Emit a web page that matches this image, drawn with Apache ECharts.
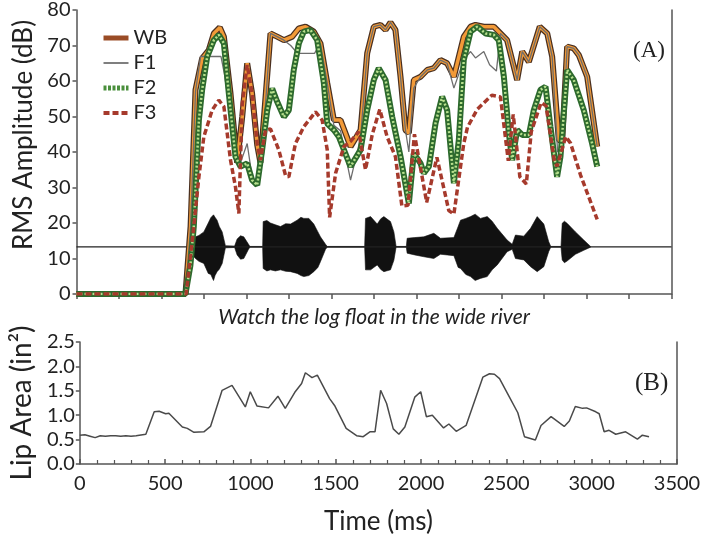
<!DOCTYPE html>
<html>
<head>
<meta charset="utf-8">
<script src="https://cdn.jsdelivr.net/npm/echarts@6/dist/echarts.min.js"></script>
<style>html,body{margin:0;padding:0;background:#fff;}#c{width:715px;height:538px;}</style>
</head>
<body>
<div id="c"></div>
<script>
// ---------- Panel A: RMS amplitude (dB) ----------
var wbT = [0,641,671,700,739,778,808,843,867,906,945,975,1004,1033,1063,1082,1141,1180,1220,1269,1308,1347,1396,1435,1475,1514,1553,1612,1671,1710,1749,1788,1818,1847,1876,1906,1935,1955,1984,2024,2063,2102,2141,2180,2220,2278,2318,2347,2396,2455,2494,2533,2592,2622,2661,2725,2769,2798,2837,2857,2886,2925,2955,3004,3063];
var wbV = [0,0,19,57.5,66.4,68.7,73.4,75.1,72.5,56.5,37,50,65,56.5,42,37,73.4,72.5,71.5,72.5,74.8,75.3,73.9,70.6,59.4,49,49,41.5,46.2,67.8,75.3,75.8,74.4,76.5,74.4,61.2,46.2,45.3,60.3,61.2,63.1,63.6,65.9,65,61.2,72.5,75.3,75.8,75.3,75.3,73.4,71.5,60.3,68.3,65.4,75.3,73.4,66.9,43.4,42.9,69.7,69.2,67.3,61.2,41.5];

var f1T = [0,641,671,700,730,850,870,906,935,965,1004,1033,1063,1092,1141,1180,1220,1260,1300,1400,1435,1475,1514,1553,1612,1671,1710,1749,1788,1818,1847,1876,1906,1935,1955,1984,2024,2063,2102,2141,2180,2220,2278,2318,2347,2396,2430,2470,2494,2533,2592,2622,2661,2725,2769,2798,2830,2857,2886,2925,2955,3004,3063];
var f1V = [0,0,19,57,66.9,66.9,62,50,38,37,42.4,33,31,40,73.4,72.5,71.5,70,67.8,67.8,70.6,59.4,47.5,46,32.1,44,67.8,75.3,75.8,74.4,76.5,74.4,61.2,46.2,40,58,61.2,63.1,63.6,65.9,65,58,66,68.3,66.5,68.3,64.6,62.8,73.4,71.5,60.3,68.3,65.4,75.3,73.4,66.9,40,41,69.7,69.2,67.3,61.2,41.5];

var f2T = [0,641,670,690,720,739,769,808,837,867,896,935,965,1004,1033,1063,1092,1122,1151,1180,1220,1249,1278,1308,1337,1376,1416,1455,1475,1514,1543,1612,1671,1710,1749,1778,1818,1857,1906,1955,1984,2024,2043,2073,2112,2151,2180,2220,2249,2278,2318,2357,2406,2455,2484,2514,2543,2563,2592,2622,2661,2690,2729,2759,2788,2827,2847,2886,2925,2984,3033,3063];
var f2V = [0,0,8,19,49,57.5,66.9,71.5,73,70.6,56.5,38.7,35.9,36.8,32.1,30.7,40.6,51.8,57.9,54.2,49.9,51.8,63.1,70.6,73.9,74.4,71.5,59.4,48,46.2,44.3,35.9,40.6,51.8,60.3,63.6,60.3,49.9,38.7,25.5,39.6,36.8,34,35.9,48.1,55.6,51.8,31.2,43.4,65.9,73.9,75.3,73.4,73,71.5,61.2,45.3,37.7,46.2,44.8,44.8,51.8,57.5,58.4,47.1,33,38.7,63.1,60.3,51.8,42.4,35.9];

var f3T = [0,645,690,720,749,798,837,867,906,935,955,975,1004,1033,1063,1082,1112,1141,1190,1229,1249,1288,1337,1406,1445,1475,1489,1524,1573,1612,1660,1700,1740,1784,1827,1876,1914,1950,1988,2060,2120,2190,2220,2278,2300,2357,2443,2494,2540,2569,2608,2646,2675,2733,2762,2811,2827,2878,2906,2965,3063];
var f3V = [0,0,19,33,44.3,51.8,54.6,52.8,37.7,30.2,22.7,53.7,64.5,56.5,42.4,37.7,46.2,46.5,40.6,33.5,33,42.4,47.1,51.3,49,40.6,21.6,34,41.5,43,45.7,35,45,52,44.3,38.7,24.8,25,45,25.8,38.5,23.5,22.5,42.4,47,52,56,55.5,37.5,50.6,33,31,45.7,53.9,53,37.5,36,44.3,42.5,33.5,21];

// audio waveform envelope (drawn in dB units, centred on the baseline)
var waveBase = 13.3;
var waveT   = [660,671,700,720,749,775,790,806,815,827,840,857,876,930,945,965,984,1012,1020,1095,1098,1120,1141,1170,1200,1230,1259,1298,1320,1337,1367,1396,1420,1435,1465,1475,1695,1700,1730,1769,1790,1808,1847,1867,1880,1940,1945,1990,2043,2102,2141,2220,2245,2259,2290,2318,2345,2376,2416,2445,2475,2533,2563,2582,2631,2671,2710,2749,2778,2790,2850,2857,2870,2886,2935,2984,3024];
var waveTop = [13.4,15,16.1,16.5,17.5,20,21.5,22.3,21.6,20.8,19,17.5,13.6,13.5,15.5,16.4,16.1,14,13.4,13.4,20.4,20.7,20,19.5,19,19.8,19.7,20.8,21.6,21.3,21.3,19.7,17.5,16.1,14,13.4,13.4,21.3,21.8,19.7,21.2,21.8,20.4,17.5,13.4,13.4,15.7,15.9,16.1,17.1,15.7,15.9,19,20.8,21.3,21.8,22.5,21.3,21.8,20.5,18.5,15.2,14,16.6,16.3,18.5,21.8,19.7,14.7,13.4,13.4,19.9,20.5,19.9,17.5,15.2,13.4];
var waveBot = [13.2,11.5,10,9.2,8.6,5.8,5.5,3.8,5.2,6.3,7,8.6,13,13.1,11,9.8,10,12.6,13.2,13.2,7.2,6.5,6.8,6.5,6.8,6.4,6.3,5.8,5.2,4.9,5.2,6.3,7.5,9.1,12.6,13.2,13.2,6.8,6.8,8.2,6.9,6.3,6.8,9.5,13.2,13.2,11.5,11,10.5,10,11.2,10.8,7.5,7.2,5.5,4.9,3.8,4.4,4.9,6.8,8.2,11.9,12.6,10,9.6,7.7,6.3,7.7,12,13.2,13.2,9.6,8.8,9.3,11.2,12.3,13.2];
var baseT = [0,3500];

// ---------- Panel B: lip area (in^2) ----------
var lipT = [0,30,60,90,120,150,180,210,240,270,300,330,387,436,465,503,522,601,630,669,727,766,834,892,970,999,1038,1106,1161,1204,1260,1300,1322,1361,1392,1464,1493,1561,1622,1661,1700,1730,1763,1798,1837,1870,1905,1963,1998,2031,2066,2132,2163,2206,2264,2362,2401,2430,2460,2518,2567,2606,2670,2703,2762,2839,2869,2904,2947,2970,3024,3044,3073,3102,3141,3199,3268,3297,3336];
var lipV = [0.59,0.6,0.57,0.54,0.58,0.57,0.58,0.58,0.57,0.58,0.57,0.58,0.61,1.07,1.08,1.03,1.04,0.76,0.73,0.65,0.66,0.77,1.51,1.61,1.17,1.48,1.19,1.15,1.39,1.14,1.47,1.65,1.87,1.77,1.82,1.34,1.2,0.73,0.58,0.56,0.66,0.66,1.51,1.24,0.72,0.61,0.76,1.37,1.48,0.97,1.0,0.74,0.82,0.67,0.79,1.78,1.85,1.84,1.75,1.37,1.05,0.56,0.49,0.79,0.97,0.77,0.88,1.18,1.14,1.15,1.07,1.03,0.66,0.69,0.61,0.66,0.51,0.59,0.56];

// tick / axis settings
var xMax = 3500, dbMax = 80, dbStep = 10, lipMax = 2.5, lipStep = 0.5;

function zip(a, b) { return a.map(function (t, i) { return [t, b[i]]; }); }

var FONT = 'Lato';
var axisLineStyle = { color: '#555', width: 1.5 };
var hiddenSymbol = { color: 'rgba(0,0,0,0)', borderColor: 'rgba(0,0,0,0)', borderWidth: 0 };

var chart = echarts.init(document.getElementById('c'), null, { renderer: 'canvas' });
chart.setOption({
  animation: false,
  backgroundColor: '#fff',
  grid: [
    { left: 76.5, right: 43.5, top: 10, bottom: 244 },
    { left: 77, right: 38, top: 342, bottom: 74 }
  ],
  legend: {
    orient: 'vertical', left: 96, top: 23, itemWidth: 25, itemHeight: 14, itemGap: 5,
    textStyle: { fontFamily: FONT, fontSize: 20, color: '#222' },
    itemStyle: hiddenSymbol,
    data: [
      { name: 'WB', itemStyle: hiddenSymbol, lineStyle: { color: '#9a4c26', width: 5 } },
      { name: 'F1', itemStyle: hiddenSymbol, lineStyle: { color: '#555', width: 1.5 } },
      { name: 'F2', itemStyle: hiddenSymbol, lineStyle: { color: '#4a8f3c', width: 5, type: [3, 1.5] } },
      { name: 'F3', itemStyle: hiddenSymbol, lineStyle: { color: '#a63a2c', width: 4, type: [6, 3] } }
    ]
  },
  xAxis: [
    { gridIndex: 0, type: 'value', min: 0, max: xMax, interval: 250,
      axisLine: { show: true, lineStyle: axisLineStyle }, axisTick: { show: true, inside: false, length: 5, lineStyle: axisLineStyle },
      axisLabel: { show: false }, splitLine: { show: false },
      name: 'Watch the log float in the wide river', nameLocation: 'middle', nameGap: 13,
      nameTextStyle: { fontFamily: FONT, fontStyle: 'italic', fontSize: 21, color: '#222' } },
    { gridIndex: 1, type: 'value', min: 0, max: xMax, interval: 500,
      axisLine: { show: true, lineStyle: axisLineStyle }, axisTick: { show: true, inside: true, length: 5, lineStyle: axisLineStyle },
      minorTick: { show: true, splitNumber: 5, length: 4, lineStyle: { color: '#555', width: 1.2 } },
      axisLabel: { fontFamily: FONT, fontSize: 20, color: '#222', margin: 10, formatter: function (v) { return String(v); } },
      splitLine: { show: false },
      name: 'Time (ms)', nameLocation: 'middle', nameGap: 45,
      nameTextStyle: { fontFamily: FONT, fontSize: 26, color: '#222' } }
  ],
  yAxis: [
    { gridIndex: 0, type: 'value', min: 0, max: dbMax, interval: dbStep,
      axisLine: { show: true, lineStyle: axisLineStyle }, axisTick: { show: true, length: 4, lineStyle: axisLineStyle },
      axisLabel: { fontFamily: FONT, fontSize: 20, color: '#222', margin: 6 }, splitLine: { show: false },
      name: 'RMS Amplitude (dB)', nameLocation: 'middle', nameGap: 37, nameRotate: 90,
      nameTextStyle: { fontFamily: FONT, fontSize: 26, color: '#222', padding: [0, 0, 0, 34] } },
    { gridIndex: 0, type: 'value', position: 'right', min: 0, max: dbMax, interval: dbStep,
      axisLine: { show: true, lineStyle: axisLineStyle }, axisTick: { show: false }, axisLabel: { show: false }, splitLine: { show: false } },
    { gridIndex: 1, type: 'value', min: 0, max: lipMax, interval: lipStep,
      axisLine: { show: true, lineStyle: axisLineStyle }, axisTick: { show: true, length: 4, lineStyle: axisLineStyle },
      axisLabel: { fontFamily: FONT, fontSize: 20, color: '#222', margin: 5, formatter: function (v) { return v.toFixed(1); } },
      splitLine: { show: false },
      name: 'Lip Area (in²)', nameLocation: 'middle', nameGap: 35, nameRotate: 90,
      nameTextStyle: { fontFamily: FONT, fontSize: 28, color: '#222' } },
    { gridIndex: 1, type: 'value', position: 'right', min: 0, max: lipMax, interval: lipStep,
      axisLine: { show: true, lineStyle: axisLineStyle }, axisTick: { show: false }, axisLabel: { show: false }, splitLine: { show: false } }
  ],
  graphic: [
    { type: 'text', left: 633, top: 39, style: { text: '(A)', font: '23px "Liberation Serif", "DejaVu Serif", serif', fill: '#222' } },
    { type: 'text', left: 635, top: 371, style: { text: '(B)', font: '25px "Liberation Serif", "DejaVu Serif", serif', fill: '#222' } }
  ],
  series: [
    { type: 'custom', name: 'waveform', xAxisIndex: 0, yAxisIndex: 0, data: [[waveT[0], waveBase]], z: 1, silent: true,
      renderItem: function (params, api) {
        var pts = [], i;
        for (i = 0; i < waveT.length; i++) pts.push(api.coord([waveT[i], waveTop[i]]));
        for (i = waveT.length - 1; i >= 0; i--) pts.push(api.coord([waveT[i], waveBot[i]]));
        return { type: 'polygon', shape: { points: pts }, style: { fill: '#111', stroke: '#111', lineWidth: 0.6 } };
      } },
    { type: 'line', name: 'baseline', xAxisIndex: 0, yAxisIndex: 0, data: zip(baseT, baseT.map(function () { return waveBase; })),
      symbol: 'none', lineStyle: { color: '#222', width: 1.2 }, z: 2, silent: true },
    { type: 'line', name: 'WB_edge', xAxisIndex: 0, yAxisIndex: 0, data: zip(wbT, wbV), symbol: 'none',
      lineStyle: { color: '#4a3020', width: 6 }, z: 3 },
    { type: 'line', name: 'WB', xAxisIndex: 0, yAxisIndex: 0, data: zip(wbT, wbV), symbol: 'none',
      lineStyle: { color: '#f29a38', width: 3.5 }, z: 4 },
    { type: 'line', name: 'F1', xAxisIndex: 0, yAxisIndex: 0, data: zip(f1T, f1V), symbol: 'none',
      lineStyle: { color: '#6d6d6d', width: 1.3 }, z: 5 },
    { type: 'line', name: 'F2', xAxisIndex: 0, yAxisIndex: 0, data: zip(f2T, f2V), symbol: 'none',
      lineStyle: { color: '#2d6a2d', width: 6 }, z: 6 },
    { type: 'line', name: 'F2_dots', xAxisIndex: 0, yAxisIndex: 0, data: zip(f2T, f2V), symbol: 'none',
      lineStyle: { color: '#b8e08e', width: 2.5, type: [2, 2] }, z: 7 },
    { type: 'line', name: 'F3', xAxisIndex: 0, yAxisIndex: 0, data: zip(f3T, f3V), symbol: 'none',
      lineStyle: { color: '#a63a2c', width: 3.5, type: [6, 3] }, z: 8 },
    { type: 'line', name: 'Lip area', xAxisIndex: 1, yAxisIndex: 2, data: zip(lipT, lipV), symbol: 'none',
      lineStyle: { color: '#4a4a4a', width: 1.5 }, z: 3 }
  ]
});
</script>
</body>
</html>
